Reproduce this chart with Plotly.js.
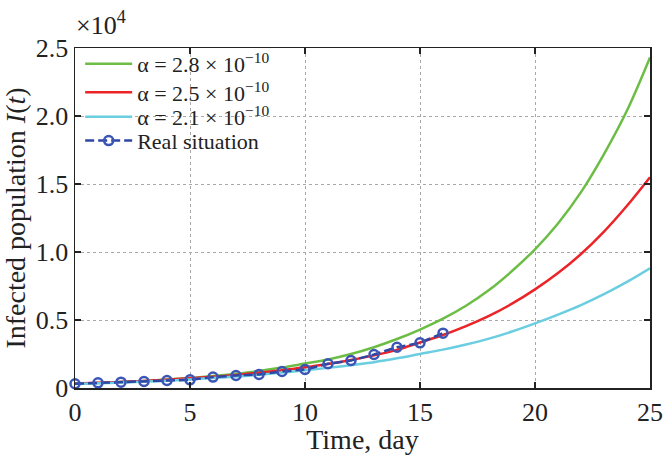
<!DOCTYPE html>
<html>
<head>
<meta charset="utf-8">
<script src="https://cdn.plot.ly/plotly-3.0.1.min.js"></script>
<style>html,body{margin:0;padding:0;background:#fff;}#chart{width:664px;height:455px;}</style>
</head>
<body>
<div id="chart"></div>
<script>
// Time, days
const days = [0,1,2,3,4,5,6,7,8,9,10,11,12,13,14,15,16,17,18,19,20,21,22,23,24,25];
// Model curves (infected population)
const alpha28 = [310,370,440,520,620,740,880,1050,1250,1500,1800,2100,2500,3000,3600,4300,5100,6050,7200,8600,10200,12100,14400,17200,20400,24300];
const alpha25 = [330,380,450,520,610,710,820,960,1120,1300,1520,1770,2060,2400,2800,3350,3900,4550,5300,6200,7250,8450,9850,11500,13400,15500];
const alpha21 = [300,350,400,470,540,630,730,840,970,1130,1300,1480,1680,1900,2180,2500,2820,3200,3630,4150,4750,5400,6100,6900,7800,8800];
// Real situation observations
const realDays = [0,1,2,3,4,5,6,7,8,9,10,11,12,13,14,15,16];
const realVals = [310,380,430,480,550,600,800,920,1000,1210,1360,1780,2020,2460,3000,3320,4030];
// Labels
const seriesNames = ['α = 2.8 × 10<sup>−10</sup>','α = 2.5 × 10<sup>−10</sup>','α = 2.1 × 10<sup>−10</sup>','Real situation'];
const yTickVals = [0,5000,10000,15000,20000,25000];
const yTickText = ['0','0.5','1.0','1.5','2.0','2.5'];
const xTickVals = [0,5,10,15,20,25];

const serif = 'Liberation Serif, Times New Roman, serif';
const traces = [
  {x: days, y: alpha28, name: seriesNames[0], legend: 'legend', mode: 'lines', line: {color: '#6cbd45', width: 2.5, shape: 'spline'}},
  {x: days, y: alpha25, name: seriesNames[1], legend: 'legend2', mode: 'lines', line: {color: '#ec2327', width: 2.5, shape: 'spline'}},
  {x: days, y: alpha21, name: seriesNames[2], legend: 'legend3', mode: 'lines', line: {color: '#6acde0', width: 2.5, shape: 'spline'}},
  {x: realDays, y: realVals, name: seriesNames[3], legend: 'legend4', mode: 'lines+markers', cliponaxis: false,
   line: {color: '#2f47a4', width: 2.5, dash: '9px,4px'},
   marker: {symbol: 'circle-open', size: 9, color: '#3a55b5', line: {width: 2.5, color: '#3a55b5'}}}
];
const axisCommon = {
  showline: true, linecolor: '#222', linewidth: 1.5, mirror: 'ticks',
  ticks: 'inside', ticklen: 6, tickwidth: 1.5, tickcolor: '#222',
  showgrid: true, gridcolor: '#a8a8a8', griddash: 'dot', gridwidth: 1,
  zeroline: false, tickfont: {family: serif, size: 26, color: '#222'}
};
function leg(yc) {
  return {x: 0.009, y: yc, xanchor: 'left', yanchor: 'middle', bgcolor: 'rgba(0,0,0,0)',
          font: {family: serif, size: 22, color: '#222'}, itemwidth: 47, borderwidth: 0};
}
const layout = {
  width: 664, height: 455,
  margin: {l: 75, r: 14, t: 48, b: 67},
  paper_bgcolor: '#fff', plot_bgcolor: '#fff',
  font: {family: serif, color: '#222'},
  showlegend: true,
  legend: leg(0.953), legend2: leg(0.869), legend3: leg(0.797), legend4: leg(0.727),
  xaxis: Object.assign({}, axisCommon, {range: [0, 25], tickvals: xTickVals,
          title: {text: 'Time, day', font: {family: serif, size: 28, color: '#222'}, standoff: 2}}),
  yaxis: Object.assign({}, axisCommon, {range: [0, 25000], tickvals: yTickVals, ticktext: yTickText,
          title: {text: 'Infected population <i>I</i>(<i>t</i>)', font: {family: serif, size: 28, color: '#222'}, standoff: 6}}),
  annotations: [{xref: 'paper', yref: 'paper', x: 0, y: 1, xanchor: 'left', yanchor: 'bottom', yshift: 6, xshift: -1,
                 showarrow: false, text: '×10<sup>4</sup>', font: {family: serif, size: 26, color: '#222'}}]
};
Plotly.newPlot('chart', traces, layout, {displayModeBar: false, staticPlot: true});
</script>
</body>
</html>
